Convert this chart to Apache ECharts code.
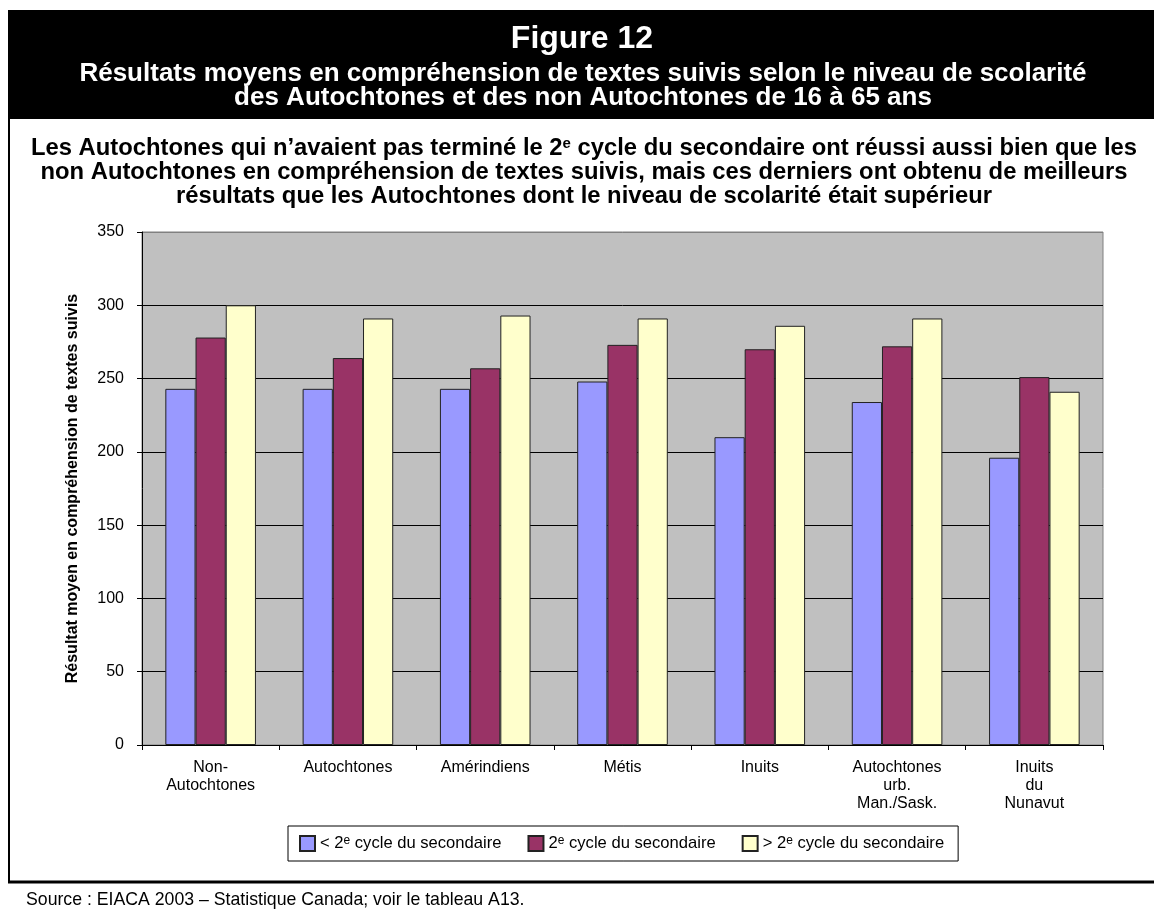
<!DOCTYPE html>
<html>
<head>
<meta charset="utf-8">
<script src="https://cdn.jsdelivr.net/npm/echarts@6/dist/echarts.min.js"></script>
<style>
  html, body { margin: 0; padding: 0; background: #fff; }
  #chart { width: 1154px; height: 912px; }
</style>
</head>
<body>
<div id="chart"></div>
<script>
// catégories et valeurs
const categories = [
  'Non-\nAutochtones',
  'Autochtones',
  'Amérindiens',
  'Métis',
  'Inuits',
  'Autochtones\nurb.\nMan./Sask.',
  'Inuits\ndu\nNunavut'
];
const seriesNames = ['< 2e cycle du secondaire', '2e cycle du secondaire', '> 2e cycle du secondaire'];
const belowSecondary = [243, 243, 243, 248, 210, 234, 196];
const secondary = [278, 264, 257, 273, 270, 272, 251];
const aboveSecondary = [300, 291, 293, 291, 286, 291, 241];
const yMin = 0;
const yMax = 350;
const yStep = 50;

const FONT = 'Liberation Sans, Arial, sans-serif';
const colors = ['#9999FF', '#993366', '#FFFFCC'];

const legendLabels = {
  '< 2e cycle du secondaire': '< 2{sup|e} cycle du secondaire',
  '2e cycle du secondaire': '2{sup|e} cycle du secondaire',
  '> 2e cycle du secondaire': '> 2{sup|e} cycle du secondaire'
};

const chart = echarts.init(document.getElementById('chart'));

const makeBar = (name, data, i) => ({
  name,
  type: 'bar',
  data,
  barGap: '0%',
  barCategoryGap: '34%',
  itemStyle: {
    color: colors[i],
    borderColor: '#222',
    borderWidth: 1
  }
});

const option = {
  backgroundColor: '#fff',
  animation: false,
  textStyle: { fontFamily: FONT },
  grid: {
    left: 142,
    right: 51,
    top: 232,
    bottom: 167,
    show: true,
    backgroundColor: '#C0C0C0',
    borderColor: '#808080',
    borderWidth: 1
  },
  legend: {
    left: 288,
    top: 826,
    padding: [9, 14, 9, 11],
    itemGap: 26,
    itemWidth: 15,
    itemHeight: 15,
    icon: 'rect',
    borderColor: '#000',
    borderWidth: 1,
    backgroundColor: '#fff',
    data: seriesNames,
    formatter: (name) => legendLabels[name],
    textStyle: {
      fontFamily: FONT,
      fontSize: 16.6,
      color: '#000',
      lineHeight: 17,
      rich: {
        sup: { fontSize: 12, verticalAlign: 'top', lineHeight: 10, fontFamily: FONT, color: '#000' }
      }
    }
  },
  xAxis: {
    type: 'category',
    data: categories,
    axisLine: { lineStyle: { color: '#000', width: 1 } },
    axisTick: { show: true, length: 5, lineStyle: { color: '#000' } },
    axisLabel: {
      color: '#000',
      fontSize: 16,
      fontFamily: FONT,
      lineHeight: 18,
      margin: 14,
      interval: 0
    }
  },
  yAxis: {
    type: 'value',
    min: yMin,
    max: yMax,
    interval: yStep,
    name: 'Résultat moyen en compréhension de textes suivis',
    nameLocation: 'middle',
    nameGap: 61,
    nameRotate: 90,
    nameTextStyle: { color: '#000', fontSize: 16, fontWeight: 'bold', fontFamily: FONT },
    axisLine: { show: true, lineStyle: { color: '#000', width: 1 } },
    axisTick: { show: true, length: 5, lineStyle: { color: '#000' } },
    axisLabel: { color: '#000', fontSize: 16, fontFamily: FONT, margin: 18 },
    splitLine: {
      show: true,
      lineStyle: {
        color: ['#000', '#000', '#000', '#000', '#000', '#000', '#000', '#808080'],
        width: 1
      }
    }
  },
  series: [
    makeBar(seriesNames[0], belowSecondary, 0),
    makeBar(seriesNames[1], secondary, 1),
    makeBar(seriesNames[2], aboveSecondary, 2)
  ],
  graphic: [
    // bandeau noir du titre
    { type: 'rect', shape: { x: 8, y: 10, width: 1146, height: 109 }, style: { fill: '#000' }, z: 0 },
    // cadre gauche et ligne du bas
    { type: 'line', shape: { x1: 9, y1: 118, x2: 9, y2: 882 }, style: { stroke: '#000', lineWidth: 2 } },
    { type: 'line', shape: { x1: 8, y1: 882, x2: 1154, y2: 882 }, style: { stroke: '#000', lineWidth: 3 } },
    {
      type: 'text',
      x: 582, y: 39,
      style: {
        text: 'Figure 12',
        fill: '#fff',
        font: 'bold 32px ' + FONT,
        align: 'center',
        verticalAlign: 'middle'
      },
      z: 10
    },
    {
      type: 'text',
      x: 583, y: 62,
      style: {
        text: 'Résultats moyens en compréhension de textes suivis selon le niveau de scolarité\ndes Autochtones et des non Autochtones de 16 à 65 ans',
        fill: '#fff',
        font: 'bold 26px ' + FONT,
        lineHeight: 24,
        align: 'center',
        verticalAlign: 'top'
      },
      z: 10
    },
    {
      type: 'text',
      x: 584, y: 136,
      style: {
        text: 'Les Autochtones qui n’avaient pas terminé le 2{sup|e} cycle du secondaire ont réussi aussi bien que les\nnon Autochtones en compréhension de textes suivis, mais ces derniers ont obtenu de meilleurs\nrésultats que les Autochtones dont le niveau de scolarité était supérieur',
        fill: '#000',
        fontFamily: FONT,
        fontSize: 23.8,
        fontWeight: 'bold',
        lineHeight: 24,
        align: 'center',
        verticalAlign: 'top',
        rich: {
          sup: { fontSize: 15, fontWeight: 'bold', fontFamily: FONT, verticalAlign: 'top', lineHeight: 12, fill: '#000' }
        }
      },
      z: 10
    },
    {
      type: 'text',
      x: 26, y: 900,
      style: {
        text: 'Source : EIACA 2003 – Statistique Canada; voir le tableau A13.',
        fill: '#000',
        font: '17.7px ' + FONT,
        align: 'left',
        verticalAlign: 'middle'
      },
      z: 10
    }
  ]
};

chart.setOption(option);
</script>
</body>
</html>
